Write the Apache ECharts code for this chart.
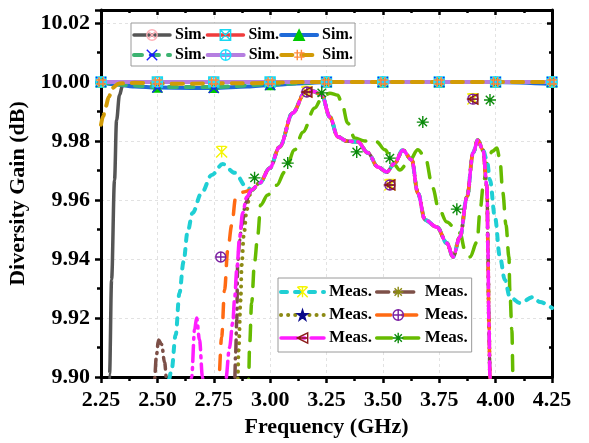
<!DOCTYPE html>
<html>
<head>
<meta charset="utf-8">
<script src="https://cdn.jsdelivr.net/npm/echarts@6/dist/echarts.min.js"></script>
<style>
  html, body { margin: 0; padding: 0; background: #fff; }
  #main { width: 589px; height: 443px; }
</style>
</head>
<body>
<div id="main"></div>
<script>
// ---- values ----
// simulated curves (all sit near 10.00 dB)
const simGray = [[2.283, 9.885], [2.288, 9.901], [2.297, 9.933], [2.310, 9.9668], [2.319, 9.987], [2.332, 9.9956],
  [2.345, 9.9986], [2.363, 9.9998], [2.40, 10.0], [4.25, 10.0]];
const simRed = [[2.25, 10.0], [4.25, 10.0]];
const simBlue = [[2.25, 10.0], [2.30, 9.9993], [2.40, 9.9985], [2.50, 9.9981], [2.65, 9.998], [2.75, 9.998],
  [2.90, 9.9985], [3.0, 9.999], [3.15, 9.9996], [3.25, 10.0], [4.0, 10.0], [4.25, 9.9993]];
const simGreen = [[2.25, 10.0], [2.35, 9.999], [2.50, 9.9983], [2.75, 9.9983], [3.0, 9.9992], [3.25, 10.0], [4.25, 10.0]];
const simPurple = [[2.25, 10.0], [4.25, 10.0]];
const simGold = [[2.25, 9.9855], [2.26, 9.9885], [2.27, 9.9915], [2.285, 9.995], [2.30, 9.998], [2.33, 9.9995],
  [2.40, 9.9997], [2.60, 9.9994], [2.90, 9.9996], [3.20, 10.0], [4.25, 10.0]];

// sim marker positions
const simMarkX = [2.25, 2.50, 2.75, 3.00, 3.25, 3.50, 3.75, 4.00, 4.25];
const simMarkYFlat = [10.0, 10.0, 10.0, 10.0, 10.0, 10.0, 10.0, 10.0, 10.0];
const simMarkYBlue = [10.0, 9.9981, 9.998, 9.999, 10.0, 10.0, 10.0, 10.0, 10.0];

// measured curves; the stretch 2.92-3.94 GHz is shared by several of them
const measCore = [[2.918, 9.9634], [2.954, 9.9658], [2.998, 9.9708], [3.042, 9.978], [3.100, 9.9895], [3.153, 9.9962],
  [3.189, 9.9969], [3.229, 9.9956], [3.265, 9.9881], [3.300, 9.9814], [3.340, 9.980], [3.389, 9.9797],
  [3.433, 9.976], [3.478, 9.9712], [3.517, 9.9695], [3.553, 9.9725], [3.588, 9.9769], [3.628, 9.9736],
  [3.655, 9.9624], [3.687, 9.9532], [3.740, 9.9508], [3.784, 9.9454], [3.811, 9.9407], [3.842, 9.9475],
  [3.873, 9.961], [3.900, 9.9759], [3.921, 9.9803], [3.944, 9.9769]];
const measDrop = [[3.962, 9.9644], [3.966, 9.943], [3.970, 9.9193], [3.975, 9.900], [3.977, 9.885]];

const cyanHead = [[2.548, 9.885], [2.550, 9.899], [2.563, 9.9024], [2.581, 9.9142], [2.598, 9.9285], [2.616, 9.939],
  [2.634, 9.9492], [2.656, 9.9556], [2.696, 9.9624], [2.741, 9.9685], [2.790, 9.9722], [2.843, 9.9692],
  [2.896, 9.9644]];
const cyanTail = [[3.961, 9.9736], [3.975, 9.9668], [3.997, 9.9542], [4.019, 9.9407], [4.041, 9.9329],
  [4.063, 9.9271], [4.108, 9.9251], [4.166, 9.9271], [4.197, 9.9254], [4.25, 9.9234]];
const brownHead = [[2.485, 9.885], [2.487, 9.899], [2.496, 9.9075], [2.505, 9.9125], [2.519, 9.911], [2.532, 9.905],
  [2.541, 9.899], [2.545, 9.885], [2.840, 9.885], [2.843, 9.899], [2.847, 9.908], [2.852, 9.9193],
  [2.856, 9.9386], [2.865, 9.9464], [2.874, 9.9515], [2.892, 9.959], [2.909, 9.9624]];
const oliveHead = [[2.854, 9.885], [2.856, 9.899], [2.860, 9.909], [2.869, 9.926], [2.874, 9.938], [2.883, 9.948],
  [2.896, 9.9566], [2.909, 9.9617]];
const orangeHead = [[2.770, 9.885], [2.772, 9.899], [2.785, 9.9136], [2.798, 9.9295], [2.812, 9.943], [2.830, 9.9515],
  [2.847, 9.9607], [2.883, 9.9627]];
const magentaHead = [[2.640, 9.885], [2.652, 9.900], [2.665, 9.916], [2.674, 9.920], [2.687, 9.9125], [2.700, 9.900],
  [2.710, 9.885], [2.790, 9.885], [2.803, 9.899], [2.820, 9.910], [2.834, 9.9183], [2.843, 9.927],
  [2.852, 9.9363], [2.865, 9.9475], [2.878, 9.9556], [2.896, 9.961]];
const measGreen = [[2.903, 9.885], [2.905, 9.900], [2.909, 9.9108], [2.918, 9.9251], [2.931, 9.939], [2.945, 9.948],
  [2.958, 9.9583], [2.989, 9.9617], [3.029, 9.965], [3.065, 9.9695], [3.109, 9.977], [3.145, 9.983],
  [3.198, 9.9912], [3.229, 9.9945], [3.265, 9.9962], [3.300, 9.9955], [3.318, 9.9929], [3.344, 9.9861],
  [3.375, 9.981], [3.420, 9.980], [3.473, 9.9797], [3.509, 9.977], [3.545, 9.9725], [3.575, 9.9702],
  [3.620, 9.9736], [3.655, 9.977], [3.687, 9.9746], [3.722, 9.964], [3.745, 9.9576], [3.784, 9.9525],
  [3.820, 9.9505], [3.842, 9.9488], [3.864, 9.943], [3.886, 9.9407], [3.918, 9.9458], [3.931, 9.9566],
  [3.948, 9.9668], [3.966, 9.9736], [3.985, 9.9765], [4.006, 9.9776], [4.019, 9.9736], [4.032, 9.9624],
  [4.046, 9.9515], [4.059, 9.9407], [4.063, 9.9295], [4.072, 9.916], [4.077, 9.900], [4.079, 9.885]];

// measured marker positions
const cyanMarks = [[2.785, 9.9763], [3.163, 9.9966], [3.531, 9.9651], [3.899, 9.9942]];
const orangeMarks = [[2.781, 9.9407], [3.163, 9.9966], [3.531, 9.9651], [3.899, 9.9942]];
const magentaMarks = [[3.163, 9.9966], [3.531, 9.9651], [3.899, 9.9942]];
const greenMarks = [[2.931, 9.9675], [3.078, 9.9725], [3.229, 9.9963], [3.384, 9.9763], [3.531, 9.9742],
  [3.677, 9.9864], [3.828, 9.9569], [3.975, 9.9939]];

// ---- symbols ----
const SYM = {
  circleX: 'path://M5,0A5,5,0,1,1,4.99,0ZM1.5,1.5L8.5,8.5M8.5,1.5L1.5,8.5',
  squareX: 'path://M0,0L10,0L10,10L0,10ZM0,0L10,10M10,0L0,10',
  tri: 'path://M5,0L10,10L0,10Z',
  xmark: 'path://M0,0L10,10M10,0L0,10M2,5L8,5',
  circPlus: 'path://M5,0A5,5,0,1,1,4.99,0ZM5,0L5,10M0,5L10,5',
  hash: 'path://M3,0L3,10M7,0L7,10M0,3L10,3M0,7L10,7',
  xstar: 'path://M0,0L10,10M10,0L0,10M5,0L5,10M1,0L9,0',
  aster: 'path://M5,0L5,10M0,5L10,5M1.5,1.5L8.5,8.5M8.5,1.5L1.5,8.5',
  star: 'path://M5,0L6.2,3.8L10,3.8L6.9,6.1L8.1,10L5,7.6L1.9,10L3.1,6.1L0,3.8L3.8,3.8Z',
  triLeft: 'path://M0,5L10,0L10,10ZM0,5L10,5'
};

const FONT = '"Liberation Serif", "Times New Roman", serif';
const NONE = 'rgba(0,0,0,0)';

function line(name, data, color, width, dash, symbol, z) {
  return {
    name: name, type: 'line', data: data, smooth: 0.35, smoothMonotone: 'x',
    showSymbol: false, symbol: symbol, clip: true, z: z, silent: true,
    lineStyle: { color: color, width: width, type: dash, cap: 'round', join: 'round' },
    itemStyle: { color: color }
  };
}
function marks(data, symbol, fill, stroke, size) {
  return {
    type: 'scatter', data: data, symbol: symbol, symbolSize: size, z: 3, silent: true,
    itemStyle: { color: fill, borderColor: stroke, borderWidth: 1.4, opacity: 1 }
  };
}
function zip(xs, ys) { return xs.map((x, i) => [x, ys[i]]); }
function legItem(name, fill, stroke, width) {
  return { name: name, itemStyle: { color: fill, borderColor: stroke, borderWidth: 1.4 }, lineStyle: { width: width } };
}

const series = [
  line('Meas. 6', measGreen, '#66bb00', 3.5, [15, 12], SYM.aster, 2),
  line('Meas. 3', oliveHead.concat(measCore, measDrop), '#8c8a14', 4, [0.1, 7], SYM.star, 2),
  line('Meas. 2', brownHead.concat(measCore, measDrop), '#7d5048', 3.5, [12, 6, 1, 6], SYM.aster, 2),
  line('Meas. 1', cyanHead.concat(measCore, cyanTail), '#1fcfd4', 4, [6, 8], SYM.xstar, 2),
  line('Meas. 4', orangeHead.concat(measCore, measDrop), '#ff6a13', 3.5, [14, 12], SYM.circPlus, 2),
  line('Meas. 5', magentaHead.concat(measCore, measDrop), '#ff1cff', 3.5, [16, 6, 2, 6], SYM.triLeft, 2),

  line('Sim. 1', simGray, '#555555', 3.5, 'solid', SYM.circleX, 2),
  line('Sim. 2', simRed, '#f03c3c', 3.5, 'solid', SYM.squareX, 2),
  line('Sim. 3', simBlue, '#1f6ad8', 4, 'solid', SYM.tri, 2),
  line('Sim. 4', simGreen, '#3cb371', 4, [8, 9], SYM.xmark, 2),
  line('Sim. 5', simPurple, '#b57ee0', 4, 'solid', SYM.circPlus, 2),
  line('Sim. 6', simGold, '#d29b06', 4, [11, 9], SYM.hash, 2),

  marks(zip(simMarkX.slice(1), simMarkYFlat.slice(1)), SYM.circleX, NONE, '#ffb0b8', 10),
  marks(zip(simMarkX, simMarkYFlat), SYM.squareX, NONE, '#19d7f0', 10),
  marks(zip(simMarkX, simMarkYBlue), SYM.tri, '#00c800', '#00c800', 9),
  marks(zip(simMarkX, simMarkYBlue), SYM.xmark, NONE, '#1a1aff', 10),
  marks(zip(simMarkX, simMarkYFlat), SYM.circPlus, NONE, '#22e0ff', 10),
  marks(zip(simMarkX, simMarkYFlat), SYM.hash, NONE, '#ff8a3c', 10),

  marks(cyanMarks, SYM.xstar, NONE, '#f5f500', 11),
  marks(orangeMarks, SYM.circPlus, NONE, '#7b1fa2', 10),
  marks(magentaMarks, SYM.triLeft, NONE, '#8b1a1a', 10),
  marks(greenMarks, SYM.aster, NONE, '#0b8a0b', 12)
];

const axisFont = { fontFamily: FONT, fontWeight: 'bold', color: '#000' };
const gridLine = { show: true, lineStyle: { color: '#e2e2e2', type: [3, 3], width: 1 } };
const fmt = n => n.split(' ')[0];

const option = {
  animation: false,
  backgroundColor: '#fff',
  grid: { left: 101, right: 37, top: 10, bottom: 66, containLabel: false, outerBoundsMode: 'none' },
  xAxis: [
    {
      type: 'value', min: 2.25, max: 4.25, interval: 0.25, position: 'bottom',
      name: 'Frequency (GHz)', nameLocation: 'middle', nameGap: 38,
      nameTextStyle: Object.assign({ fontSize: 22 }, axisFont),
      axisLine: { show: true, lineStyle: { color: '#000', width: 3 } },
      axisTick: { show: true, inside: false, length: 6, lineStyle: { color: '#000', width: 2.5 } },
      minorTick: { show: true, splitNumber: 2, length: 4, lineStyle: { color: '#000', width: 2.5 } },
      axisLabel: Object.assign({ fontSize: 22, margin: 12, formatter: v => v.toFixed(2) }, axisFont),
      splitLine: gridLine
    },
    {
      type: 'value', min: 2.25, max: 4.25, interval: 0.25, position: 'top',
      axisLine: { show: true, lineStyle: { color: '#000', width: 3 } },
      axisTick: { show: true, inside: true, length: 5, lineStyle: { color: '#000', width: 2.5 } },
      minorTick: { show: true, splitNumber: 2, length: 3, lineStyle: { color: '#000', width: 2.5 } },
      axisLabel: { show: false }, splitLine: { show: false }
    }
  ],
  yAxis: [
    {
      type: 'value', min: 9.90, max: 10.0244, interval: 0.02, position: 'left',
      name: 'Diversity Gain (dB)', nameLocation: 'middle', nameGap: 61,
      nameTextStyle: Object.assign({ fontSize: 22 }, axisFont),
      axisLine: { show: true, lineStyle: { color: '#000', width: 3 } },
      axisTick: { show: true, inside: false, length: 6, lineStyle: { color: '#000', width: 2.5 } },
      minorTick: { show: true, splitNumber: 2, length: 4, lineStyle: { color: '#000', width: 2.5 } },
      axisLabel: Object.assign({ fontSize: 22, margin: 11, showMaxLabel: false, formatter: v => v.toFixed(2) }, axisFont),
      splitLine: gridLine
    },
    {
      type: 'value', min: 9.90, max: 10.0244, interval: 0.02, position: 'right',
      axisLine: { show: true, lineStyle: { color: '#000', width: 3 } },
      axisTick: { show: true, inside: true, length: 5, lineStyle: { color: '#000', width: 2.5 } },
      minorTick: { show: true, splitNumber: 2, length: 3, lineStyle: { color: '#000', width: 2.5 } },
      axisLabel: { show: false }, splitLine: { show: false }
    }
  ],
  legend: [
    {
      left: 131, top: 23, width: 260, padding: [2, 2, 1, 1], itemGap: 0, itemWidth: 36, itemHeight: 13,
      borderColor: '#9a9a9a', borderWidth: 1, backgroundColor: '#fff', selectedMode: false,
      formatter: fmt, textStyle: Object.assign({ fontSize: 16, lineHeight: 20 }, axisFont),
      data: [
        legItem('Sim. 1', NONE, '#ffb0b8', 3.5), legItem('Sim. 2', NONE, '#19d7f0', 3.5), legItem('Sim. 3', '#00c800', '#00c800', 4),
        legItem('Sim. 4', NONE, '#1a1aff', 4), legItem('Sim. 5', NONE, '#22e0ff', 4), legItem('Sim. 6', NONE, '#ff8a3c', 4)
      ]
    },
    {
      left: 278, top: 278, width: 190, padding: [4, 4, 4, 1], itemGap: 3, itemWidth: 43, itemHeight: 13,
      borderColor: '#9a9a9a', borderWidth: 1, backgroundColor: '#fff', selectedMode: false,
      formatter: fmt, textStyle: Object.assign({ fontSize: 17, lineHeight: 20 }, axisFont),
      data: [
        legItem('Meas. 1', NONE, '#f5f500', 4), legItem('Meas. 2', NONE, '#8c8a14', 3.5),
        legItem('Meas. 3', '#0a0a8a', '#0a0a8a', 4), legItem('Meas. 4', NONE, '#7b1fa2', 3.5),
        legItem('Meas. 5', NONE, '#8b1a1a', 3.5), legItem('Meas. 6', NONE, '#0b8a0b', 3.5)
      ]
    }
  ],
  series: series
};

const chart = echarts.init(document.getElementById('main'));
chart.setOption(option);
</script>
</body>
</html>
